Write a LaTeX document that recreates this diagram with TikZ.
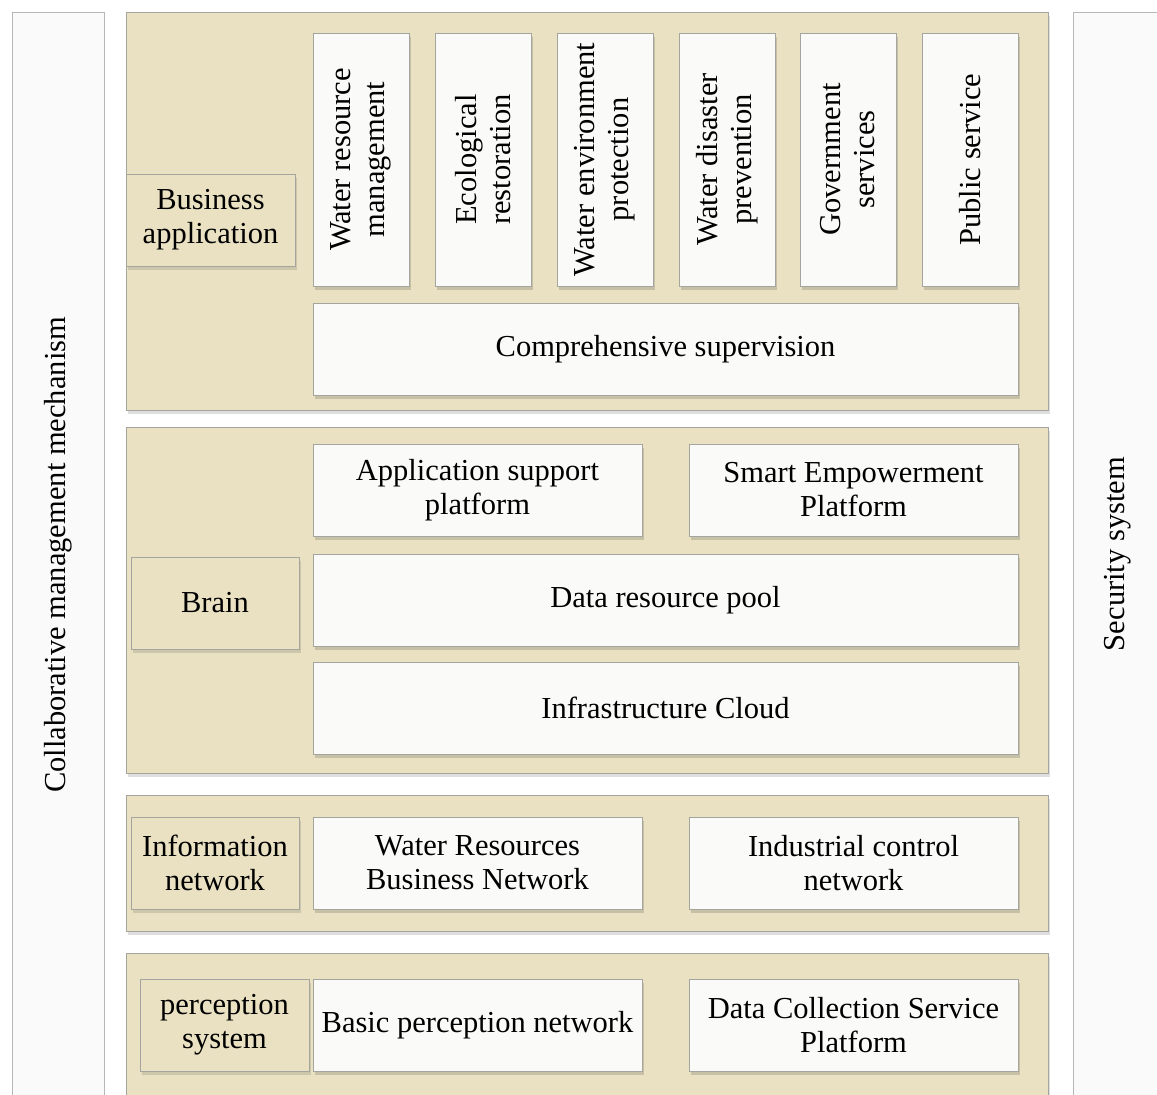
\documentclass[tikz,border=0pt]{standalone}
\usepackage{fontspec}
\setmainfont{Liberation Serif}
\usetikzlibrary{shadows}
\definecolor{tan}{RGB}{233,225,193}
\definecolor{paper}{RGB}{250,250,248}
\definecolor{rim}{RGB}{165,165,160}
\newcommand{\rimwidth}{0.9pt}

\tikzset{
  layer/.style ={draw=rim, line width=\rimwidth, fill=tan,   inner sep=0pt, outer sep=0pt,
                 drop shadow={shadow xshift=2pt, shadow yshift=-4pt, opacity=0.18, fill=black!70}},
  tag/.style   ={layer, align=center},
  card/.style  ={draw=rim, line width=\rimwidth, fill=paper, inner sep=0pt, outer sep=0pt, align=center,
                 drop shadow={shadow xshift=2pt, shadow yshift=-4pt, opacity=0.22, fill=black!70}},
  side/.style  ={draw=rim!80, line width=\rimwidth, fill=black!2, inner sep=0pt, outer sep=0pt},
  vtext/.style ={rotate=90, align=center, inner sep=0pt}
}

\begin{document}
\begin{tikzpicture}[x=1pt, y=-1pt, font=\fontsize{30.5}{34}\selectfont]
        \clip (0,0) rectangle (1157,1095);
        \fill[white] (0,0) rectangle (1157,1095);

        %side columns
        \node[side, minimum width=92pt, minimum height=1103pt, name=cmm] at (58   ,563.5) {};
        \node[side, minimum width=97pt, minimum height=1103pt, name=sec] at (1121.5,563.5) {};
        \node[vtext, name=cmmtext] at (58  ,555) {Collaborative management mechanism};
        \node[vtext, name=sectext] at (1118,554) {Security system};

        %layers
        \node[layer, minimum width=922pt, minimum height=398pt, name=business  ] at (587,211 ) {};
        \node[layer, minimum width=922pt, minimum height=346pt, name=brain     ] at (587,600 ) {};
        \node[layer, minimum width=922pt, minimum height=136pt, name=network   ] at (587,863 ) {};
        \node[layer, minimum width=922pt, minimum height=162pt, name=perception] at (587,1034) {};

        %tags
        \node[tag, minimum width=169pt, minimum height=92pt, name=businesstag  ] at (210.5,220 ) {Business\\application};
        \node[tag, minimum width=168pt, minimum height=92pt, name=braintag     ] at (215  ,603 ) {Brain};
        \node[tag, minimum width=168pt, minimum height=92pt, name=networktag   ] at (215  ,863 ) {Information\\network};
        \node[tag, minimum width=169pt, minimum height=92pt, name=perceptiontag] at (224.5,1025) {perception\\system};

        %business cards
        \foreach \cx/\name/\txt in {361/wrm/Water resource\\management,
                                    483/eco/Ecological\\restoration,
                                    605/wep/Water environment\\protection,
                                    727/wdp/Water disaster\\prevention,
                                    848/gov/Government\\services,
                                    970/pub/Public service}{
          \node[card, minimum width=96pt, minimum height=253pt, name=\name] at (\cx,159.5) {};
          \node[vtext, name=\name text] at (\name) {\txt};
        }
        \node[card, minimum width=705pt, minimum height=92pt, name=supervision] at (665.5,349) {Comprehensive supervision};

        %brain cards
        \node[card, minimum width=329pt, minimum height=92pt, name=support ] at (477.5,490) {Application support\\platform};
        \node[card, minimum width=329pt, minimum height=92pt, name=empower ] at (853.5,490) {Smart Empowerment\\Platform};
        \node[card, minimum width=705pt, minimum height=92pt, name=datapool] at (665.5,600) {Data resource pool};
        \node[card, minimum width=705pt, minimum height=92pt, name=cloud   ] at (665.5,708) {Infrastructure Cloud};

        %network cards
        \node[card, minimum width=329pt, minimum height=92pt, name=wrbn] at (477.5,863) {Water Resources\\Business Network};
        \node[card, minimum width=329pt, minimum height=92pt, name=icn ] at (853.5,863) {Industrial control\\network};

        %perception cards
        \node[card, minimum width=329pt, minimum height=92pt, name=bpn ] at (477.5,1025) {Basic perception network};
        \node[card, minimum width=329pt, minimum height=92pt, name=dcsp] at (853.5,1025) {Data Collection Service\\Platform};
    \end{tikzpicture}
\end{document}
